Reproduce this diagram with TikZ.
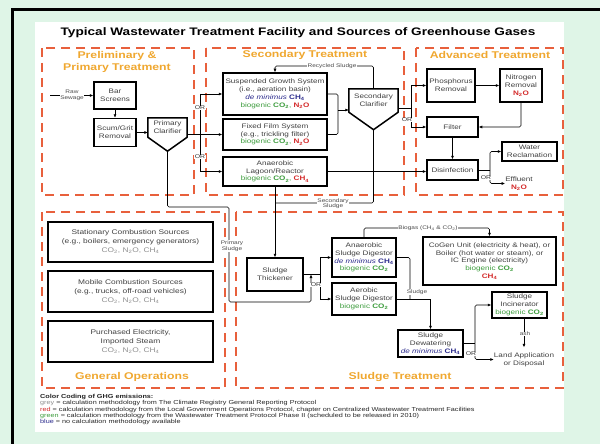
\documentclass[tikz,border=0pt]{standalone}
\usepackage{fontspec}
\setmainfont[FakeStretch=1.25]{Liberation Sans}
\usetikzlibrary{arrows.meta,calc}
\definecolor{mint}{HTML}{DFF5E7}
\definecolor{dashred}{HTML}{E8603C}
\definecolor{headorange}{HTML}{F0A830}
\definecolor{ghggreen}{HTML}{3C9C3C}
\definecolor{ghgred}{HTML}{D42A2A}
\definecolor{ghgblue}{HTML}{2A2A8C}
\definecolor{ghggrey}{HTML}{909090}
\newcommand\gCOtwo{\textbf{CO\textsubscript{2}}}
\newcommand\gNtwoO{\textbf{N\textsubscript{2}O}}
\newcommand\gCHfour{\textbf{CH\textsubscript{4}}}
\newcommand\biog{\textcolor{ghggreen}{biogenic}}
\newcommand\demin{\textcolor{ghgblue}{\textit{de minimus}}}
\newcommand\greyset{\textcolor{ghggrey}{CO\textsubscript{2}, N\textsubscript{2}O, CH\textsubscript{4}}}
\begin{document}
\begin{tikzpicture}[x=1pt,y=-1pt,
  box/.style={draw, line width=1.5pt, align=center, inner sep=0pt, text=black!75,
    font=\fontsize{6.5}{7.8}\selectfont},
  gbox/.style={box, minimum width=165pt, minimum height=40pt, font=\fontsize{6.7}{9}\selectfont},
  clar/.style={align=center, inner sep=0pt, text=black!75, font=\fontsize{6.5}{7.8}\selectfont},
  zone/.style={draw=dashred, line width=1.6pt, dash pattern=on 9pt off 6pt},
  head/.style={text=headorange, align=center, font=\bfseries\fontsize{9.8}{12}\selectfont},
  arr/.style={-{Latex[length=3.5pt,width=3pt]}, line width=0.6pt, rounded corners=1.5pt},
  ln/.style={line width=0.6pt, rounded corners=1.5pt},
  lbl/.style={fill=white, inner sep=0.4pt, align=center, text=black!70, font=\fontsize{5.2}{5.6}\selectfont},
  orl/.style={fill=white, inner sep=0.4pt, text=black!80, font=\fontsize{5.5}{6}\selectfont}]
\useasboundingbox (0,0) rectangle (600,444);
\fill[mint] (0,0) rectangle (600,444);
\fill[white] (35,22) rectangle (564,432);
\draw[line width=2.5pt] (12.5,444) -- (12.5,9.5) -- (600,9.5);

\node[font=\bfseries\fontsize{10.9}{12}\selectfont] (title) at (298,33)
  {Typical Wastewater Treatment Facility and Sources of Greenhouse Gases};

% zones
\draw[zone] (42,48) rectangle (194,195);
\draw[zone] (206,48) rectangle (404,195);
\draw[zone] (416,48) rectangle (563,195);
\draw[zone] (42,212) rectangle (225,388);
\draw[zone] (236,212) rectangle (563,388);
\node[head] (hprim) at (117,62) {Preliminary \&\\Primary Treatment};
\node[head] (hsec) at (305,55) {Secondary Treatment};
\node[head] (hadv) at (490,55) {Advanced Treatment};
\node[head] (hgen) at (132,377) {General Operations};
\node[head] (hslu) at (400,377) {Sludge Treatment};

% preliminary
\node[box, minimum width=42pt, minimum height=27pt] (bar) at (115,95.5) {Bar\\Screens};
\node[box, minimum width=42pt, minimum height=28pt] (scum) at (115,132.5) {Scum/Grit\\Removal};
\node[clar, minimum width=39pt, minimum height=19pt] (pc) at (167.5,127.5) {Primary\\Clarifier};
\draw[line width=1.5pt] (pc.south west) -- (pc.north west) -- (pc.north east) -- (pc.south east)
  -- ($(pc.south)+(0,14)$) coordinate (pctip) -- cycle;
\coordinate (rawin) at (50,95.5);
\draw[arr] (rawin) -- (bar.west);
\node[lbl] (raw) at (72,95.5) {Raw\\Sewage};
\draw[arr] (bar) -- (scum);
\draw[arr] (scum.east) -- (scum.east -| pc.west);

% secondary
\node[box, minimum width=104pt, minimum height=42pt] (sg) at (275,94)
  {Suspended Growth System\\(i.e., aeration basin)\\\demin\ \textcolor{ghgblue}{\gCHfour}\\
   \biog\ \textcolor{ghggreen}{\gCOtwo,} \textcolor{ghgred}{\gNtwoO}};
\node[box, minimum width=104pt, minimum height=31pt] (ff) at (275,134.5)
  {Fixed Film System\\(e.g., trickling filter)\\\biog\ \textcolor{ghggreen}{\gCOtwo,} \textcolor{ghgred}{\gNtwoO}};
\node[box, minimum width=104pt, minimum height=29pt] (al) at (275,171.5)
  {Anaerobic\\Lagoon/Reactor\\\biog\ \textcolor{ghggreen}{\gCOtwo,} \textcolor{ghgred}{\gCHfour}};
\node[clar, minimum width=49pt, minimum height=23pt] (sc) at (373.5,100.5) {Secondary\\Clarifier};
\draw[line width=1.5pt] (sc.south west) -- (sc.north west) -- (sc.north east) -- (sc.south east)
  -- ($(sc.south)+(0,17.5)$) coordinate (sctip) -- cycle;

\coordinate (t1) at (200,94);
\coordinate (t3) at (200,171.5);
\draw[ln] (t1) -- (t3);
\draw[arr] (t1) -- (sg.west);
\draw[arr] (pc.east |- ff.west) -- (ff.west);
\draw[arr] (t3) -- (al.west);
\node[orl] (or1) at (200,108) {OR};
\node[orl] (or2) at (200,157) {OR};

\coordinate (m1) at (338,94);
\coordinate (m2) at (338,134.5);
\coordinate (m3) at (338,110);
\draw[ln] (sg.east) -- (m1) -- (m2) -- (ff.east);
\draw[arr] (m3) -- (m3 -| sc.west);
\coordinate (r1) at (373.5,66);
\coordinate (r2) at (275,66);
\draw[arr] (sc.north) -- (r1) -- (r2) -- (sg.north);
\node[lbl] (recyc) at (332,66) {Recycled Sludge};
\coordinate (s1) at (373.5,203);
\coordinate (s2) at (275,203);
\draw[ln] (sctip) -- (s1) -- (s2);
\node[lbl] (secsl) at (333,203.5) {Secondary\\Sludge};

% advanced
\node[box, minimum width=48pt, minimum height=33pt] (pr) at (451,85.5) {Phosphorus\\Removal};
\node[box, minimum width=42pt, minimum height=33pt] (nr) at (521,85.5)
  {Nitrogen\\Removal\\\textcolor{ghgred}{\gNtwoO}};
\node[box, minimum width=51pt, minimum height=20pt] (fi) at (452.5,127) {Filter};
\node[box, minimum width=51pt, minimum height=20pt] (di) at (452.5,170) {Disinfection};
\node[box, minimum width=55pt, minimum height=19pt] (wr) at (529.5,151.5) {Water\\Reclamation};
\node[clar] (eff) at (519,183.5) {Effluent\\\textcolor{ghgred}{\gNtwoO}};

\coordinate (a0) at (411,108);
\coordinate (a1) at (411,85.5);
\coordinate (a2) at (411,127);
\draw[ln] (a0 -| sc.east) -- (a0);
\draw[ln] (a1) -- (a2);
\draw[arr] (a1) -- (pr.west);
\draw[arr] (a2) -- (fi.west);
\node[orl] (or3) at (407,120) {OR};
\draw[arr] (al.east) -- (al.east -| di.west);
\draw[arr] (pr) -- (nr);
\draw[arr] (nr.south) |- (fi.east);
\draw[arr] (fi) -- (di);
\coordinate (d1) at (490,170);
\draw[ln] (di.east) -- (d1);
\draw[arr] (d1) |- (wr.west);
\draw[arr] (d1) |- (eff.west);
\node[orl] (or4) at (486,178) {OR};

% general operations
\node[gbox] (st) at (130.5,242)
  {Stationary Combustion Sources\\(e.g., boilers, emergency generators)\\\greyset};
\node[gbox, minimum height=41pt] (mo) at (130.5,291.5)
  {Mobile Combustion Sources\\(e.g., trucks, off-road vehicles)\\\greyset};
\node[gbox, minimum height=41pt] (pu) at (130.5,341.5)
  {Purchased Electricity,\\Imported Steam\\\greyset};

% sludge
\node[box, minimum width=56pt, minimum height=33pt] (th) at (275,274.5) {Sludge\\Thickener};
\node[box, minimum width=64pt, minimum height=39pt] (ad) at (364,257.5)
  {Anaerobic\\Sludge Digestor\\\demin\ \textcolor{ghgblue}{\gCHfour}\\\biog\ \textcolor{ghggreen}{\gCOtwo}};
\node[box, minimum width=64pt, minimum height=32pt] (ae) at (364,299)
  {Aerobic\\Sludge Digestor\\\biog\ \textcolor{ghggreen}{\gCOtwo}};
\node[box, minimum width=133pt, minimum height=48pt] (cg) at (489.5,261)
  {CoGen Unit (electricity \& heat), or\\Boiler (hot water or steam), or\\IC Engine (electricity)\\
   \biog\ \textcolor{ghggreen}{\gCOtwo}\\\textcolor{ghgred}{\gCHfour}};
\node[box, minimum width=65pt, minimum height=27pt] (dw) at (430.5,343.5)
  {Sludge\\Dewatering\\\demin\ \textcolor{ghgblue}{\gCHfour}};
\node[box, minimum width=55pt, minimum height=26pt] (inc) at (519.5,305)
  {Sludge\\Incinerator\\\biog\ \textcolor{ghggreen}{\gCOtwo}};
\node[clar] (land) at (524,359.5) {Land Application\\or Disposal};

\draw[arr] (al.south) -- (th.north);
\coordinate (p1) at (167.5,207);
\coordinate (p2) at (229,207);
\coordinate (p3) at (229,302);
\coordinate (p4) at (311,302);
\coordinate (p5) at (311,274.5);
\draw[arr] (pctip) -- (p1) -- (p2) -- (p3) -- (p4) -- (p5);
\node[lbl] (prsl) at (232,246) {Primary\\Sludge};
\coordinate (o0) at (320,274.5);
\coordinate (o1) at (320,257.5);
\coordinate (o2) at (320,299);
\draw[ln] (th.east) -- (o0);
\draw[ln] (o1) -- (o2);
\draw[arr] (o1) -- (ad.west);
\draw[arr] (o2) -- (ae.west);
\node[orl] (or5) at (316,285) {OR};

\coordinate (b1) at (364,228);
\coordinate (b2) at (489.5,228);
\draw[arr] (ad.north) -- (b1) -- (b2) -- (cg.north);
\node[lbl] (biogas) at (428,228) {Biogas (CH\textsubscript{4} \& CO\textsubscript{2})};

\coordinate (g1) at (410,257.5);
\coordinate (g2) at (410,299);
\coordinate (g3) at (430.5,299);
\draw[ln] (ad.east) -- (g1) -- (g2);
\draw[ln] (ae.east) -- (g3);
\draw[arr] (g3) -- (dw.north);
\node[lbl] (slg) at (417,292) {Sludge};

\coordinate (w1) at (475,343.5);
\draw[ln] (dw.east) -- (w1);
\draw[arr] (w1) |- (inc.west);
\draw[arr] (w1) |- (land.west);
\node[orl] (or6) at (471,354) {OR};
\draw[arr, shorten >=5pt] (inc.south -| land.north) -- (land.north);
\node[lbl] (ash) at (525,334) {ash};

% legend
\node[anchor=north west, align=left, inner sep=0pt, text=black!85,
  font=\fontsize{5.8}{6.3}\selectfont] (legend) at (40,394)
  {\textbf{Color Coding of GHG emissions:}\\
   \textcolor{ghggrey}{grey} = calculation methodology from The Climate Registry General Reporting Protocol\\
   \textcolor{ghgred}{red} = calculation methodology from the Local Government Operations Protocol, chapter on Centralized Wastewater Treatment Facilities\\
   \textcolor{ghggreen}{green} = calculation methodology from the Wastewater Treatment Protocol Phase II (scheduled to be released in 2010)\\
   \textcolor{ghgblue}{blue} = no calculation methodology available};
\end{tikzpicture}
\end{document}
